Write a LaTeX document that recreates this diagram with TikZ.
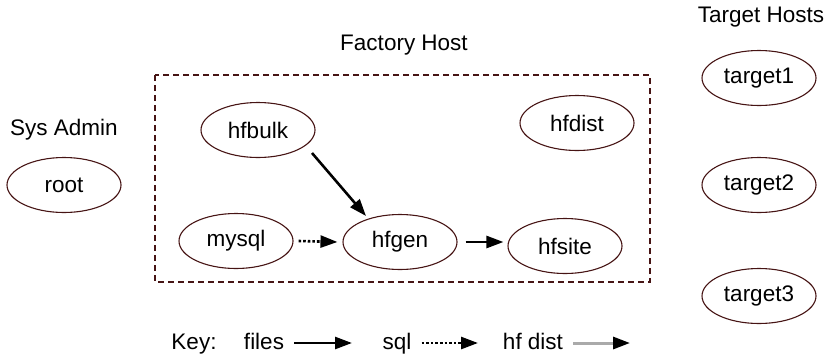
\documentclass[tikz,border=0pt]{standalone}
\usepackage{fontspec}
\setmainfont{Liberation Sans}
\usetikzlibrary{shapes.geometric,arrows.meta}
\definecolor{rim}{RGB}{70,20,20}
\definecolor{distgrey}{RGB}{170,170,170}
\tikzset{
    host/.style={ellipse, draw=rim, line width=1.1pt, minimum width=114pt, minimum height=55pt, inner sep=0pt},
    flow/.style={line width=2.6pt, -{Triangle[length=17pt,width=12pt]}},
}
\begin{document}
\begin{tikzpicture}[x=1pt, y=-1pt, font=\fontsize{22.5}{26}\selectfont]
        \useasboundingbox (0,0) rectangle (827,354);

        \draw [rim, line width=1.2pt, dash pattern=on 6pt off 4pt] (155,75) rectangle (650,282);

        \node (factory) at (404,45) {Factory Host};
        \node (sysadmin) at (64,130) {Sys Admin};
        \node (targets) at (761,17) {Target Hosts};

        \begin{scope}[every node/.style={host}]
            \node (root) at (64,185) {root};
            \node (hfbulk) at (258,130) {hfbulk};
            \node (hfdist) at (577,123) {hfdist};
            \node (mysql) at (236,241) {mysql};
            \node (hfgen) at (400,242) {hfgen};
            \node (hfsite) at (565,246) {hfsite};
            \node (target1) at (759,78) {target1};
            \node (target2) at (759,185) {target2};
            \node (target3) at (759,296) {target3};
        \end{scope}

        \draw [flow] ([shift={(54,23)}]hfbulk.center) -- ([shift={(-34,-26)}]hfgen.center);
        \draw [flow, dotted] ([xshift=5pt]mysql.east) -- ([xshift=-5pt]hfgen.west);
        \draw [flow] ([xshift=8pt]hfgen.east) -- ([xshift=-4pt]hfsite.west |- hfgen.east);

        % key
        \begin{scope}[every node/.style={anchor=base, inner sep=0pt}]
            \node (key) at (194,349) {Key:};
            \node (files) at (264,349) {files};
            \node (sql) at (397,349) {sql};
            \node (hfdistkey) at (533,349) {hf dist};
        \end{scope}
        \coordinate (filesend) at (352,343);
        \coordinate (sqlend) at (478,343);
        \coordinate (distend) at (630,343);
        \draw [flow] ([xshift=10pt]files.east |- filesend) -- (filesend);
        \draw [flow, dotted] ([xshift=10pt]sql.east |- sqlend) -- (sqlend);
        \draw [flow, line width=3pt, draw=distgrey, -{Triangle[length=17pt,width=12pt,fill=black,color=black]}] ([xshift=10pt]hfdistkey.east |- distend) -- (distend);
\end{tikzpicture}
\end{document}
